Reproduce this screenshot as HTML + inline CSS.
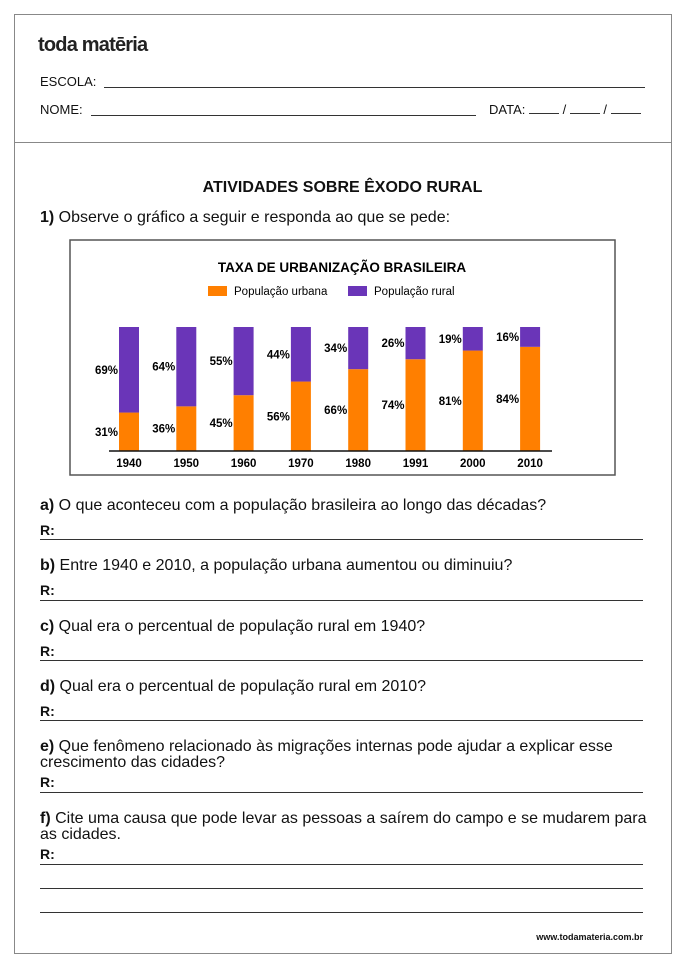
<!DOCTYPE html>
<html><head><meta charset="utf-8"><style>
body{margin:0;background:#fff;width:685px;height:967px;position:relative;font-family:"Liberation Sans",sans-serif;color:#111;overflow:hidden}
.a{position:absolute;white-space:nowrap}
.ln{position:absolute;height:0;border-top:1px solid #333}
.q{font-size:16px;line-height:16px}
.r{font-size:14px;font-weight:bold}
</style></head><body>
<div class="a" style="left:14px;top:14px;width:656px;height:938px;border:1px solid #888"></div>
<div class="a" style="left:14px;top:142px;width:658px;height:0;border-top:1px solid #888"></div>
<div class="a" style="left:38px;top:34px;font-size:20px;font-weight:bold;letter-spacing:-0.8px;color:#222">toda matēria</div>
<div class="a" style="left:40px;top:74px;font-size:13px">ESCOLA:</div>
<div class="ln" style="left:104px;width:541px;top:87px"></div>
<div class="a" style="left:40px;top:102px;font-size:13px">NOME:</div>
<div class="ln" style="left:91px;width:385px;top:115px"></div>
<div class="a" style="left:489px;top:102px;font-size:13px">DATA: <span style="display:inline-block;width:30px;border-bottom:1px solid #333"></span> / <span style="display:inline-block;width:30px;border-bottom:1px solid #333"></span> / <span style="display:inline-block;width:30px;border-bottom:1px solid #333"></span></div>
<div class="a" style="left:0;width:685px;text-align:center;top:179px;font-size:16px;font-weight:bold">ATIVIDADES SOBRE ÊXODO RURAL</div>
<div class="a q" style="left:40px;top:210px"><b>1)</b> Observe o gráfico a seguir e responda ao que se pede:</div>

<svg class="a" style="left:0;top:0" width="685" height="967" id="chart">
<rect x="70" y="240" width="545" height="235" fill="none" stroke="#555" stroke-width="1.5"/>
<text x="342" y="272" text-anchor="middle" font-size="13.5" font-weight="bold" font-family="Liberation Sans">TAXA DE URBANIZAÇÃO BRASILEIRA</text>
<rect x="208" y="286" width="19" height="10" fill="#ff7f00"/>
<text x="234" y="295" font-size="11.5" font-family="Liberation Sans">População urbana</text>
<rect x="348" y="286" width="19" height="10" fill="#6a35b8"/>
<text x="374" y="295" font-size="11.5" font-family="Liberation Sans">População rural</text>
<g id="bars"></g>
<line x1="109" x2="552" y1="451" y2="451" stroke="#111" stroke-width="1.5"/>
</svg>
<script>
const years=["1940","1950","1960","1970","1980","1991","2000","2010"];
const urban=[31,36,45,56,66,74,81,84];
const rural=[69,64,55,44,34,26,19,16];
(function(){
const g=document.getElementById('bars');const ns="http://www.w3.org/2000/svg";
const x0=119,step=57.3,bw=20,base=451,top=327;
const y=v=>base-(base-top)*v/100;
function mk(t,a){const e=document.createElementNS(ns,t);for(const k in a)e.setAttribute(k,a[k]);g.appendChild(e);return e;}
years.forEach((yr,i)=>{
 const x=x0+i*step;const yu=y(urban[i]);const tot=urban[i]+rural[i];
 let e=mk('rect',{x:x,y:yu,width:bw,height:base-yu,fill:'#ff7f00'});
 
 
 const yr2=y(tot);
 e=mk('rect',{x:x,y:yr2,width:bw,height:yu-yr2,fill:'#6a35b8'});
 
 
 const f={'font-size':11.5,'font-weight':'bold','font-family':'Liberation Sans','text-anchor':'end'};
 e=mk('text',Object.assign({x:x-1,y:(yu+base)/2+4},f));e.textContent=urban[i]+'%';
 
 
 e=mk('text',Object.assign({x:x-1,y:(yu+yr2)/2+4},f));e.textContent=rural[i]+'%';
 
 
 e=mk('text',Object.assign({},f,{x:x+bw/2,y:467,'text-anchor':'middle'}));e.textContent=yr;
 
 
});
})();
</script>

<div class="a q" style="left:40px;top:498px"><b>a)</b> O que aconteceu com a população brasileira ao longo das décadas?</div>
<div class="a r" style="left:40px;top:522px">R:</div>
<div class="ln" style="left:40px;width:603px;top:539px"></div>
<div class="a q" style="left:40px;top:558px"><b>b)</b> Entre 1940 e 2010, a população urbana aumentou ou diminuiu?</div>
<div class="a r" style="left:40px;top:582px">R:</div>
<div class="ln" style="left:40px;width:603px;top:600px"></div>
<div class="a q" style="left:40px;top:619px"><b>c)</b> Qual era o percentual de população rural em 1940?</div>
<div class="a r" style="left:40px;top:643px">R:</div>
<div class="ln" style="left:40px;width:603px;top:660px"></div>
<div class="a q" style="left:40px;top:679px"><b>d)</b> Qual era o percentual de população rural em 2010?</div>
<div class="a r" style="left:40px;top:703px">R:</div>
<div class="ln" style="left:40px;width:603px;top:720px"></div>
<div class="a q" style="left:40px;top:739px"><b>e)</b> Que fenômeno relacionado às migrações internas pode ajudar a explicar esse<br>crescimento das cidades?</div>
<div class="a r" style="left:40px;top:774px">R:</div>
<div class="ln" style="left:40px;width:603px;top:792px"></div>
<div class="a q" style="left:40px;top:811px"><b>f)</b> Cite uma causa que pode levar as pessoas a saírem do campo e se mudarem para<br>as cidades.</div>
<div class="a r" style="left:40px;top:846px">R:</div>
<div class="ln" style="left:40px;width:603px;top:864px"></div>
<div class="ln" style="left:40px;width:603px;top:888px"></div>
<div class="ln" style="left:40px;width:603px;top:912px"></div>
<div class="a" style="right:42px;top:932px;font-size:9px;font-weight:bold">www.todamateria.com.br</div>
</body></html>
